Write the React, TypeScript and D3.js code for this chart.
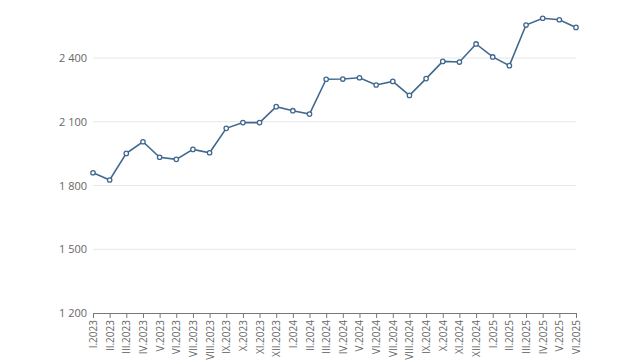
import React, { useEffect, useRef } from "react";
import * as d3 from "d3";

const months = [
  "I.2023", "II.2023", "III.2023", "IV.2023", "V.2023", "VI.2023", "VII.2023", "VIII.2023",
  "IX.2023", "X.2023", "XI.2023", "XII.2023",
  "I.2024", "II.2024", "III.2024", "IV.2024", "V.2024", "VI.2024", "VII.2024", "VIII.2024",
  "IX.2024", "X.2024", "XI.2024", "XII.2024",
  "I.2025", "II.2025", "III.2025", "IV.2025", "V.2025", "VI.2025",
];

const values = [
  1860, 1826, 1951, 2006, 1933, 1923, 1970, 1954, 2069, 2096, 2096, 2171,
  2152, 2136, 2300, 2301, 2307, 2273, 2290, 2224, 2303, 2384, 2381, 2466,
  2405, 2364, 2555, 2587, 2580, 2544,
];

const yTicks = [1200, 1500, 1800, 2100, 2400];

export default function App() {
  const svgRef = useRef<SVGSVGElement>(null);

  useEffect(() => {
    if (!svgRef.current) return;
    const svg = d3.select(svgRef.current);
    svg.selectAll("*").remove();

    const width = 640;
    const height = 360;
    const margin = { top: 18, right: 64, bottom: 47, left: 93 };

    const x = d3.scalePoint<string>()
      .domain(months)
      .range([margin.left, width - margin.right]);

    const y = d3.scaleLinear()
      .domain([1200, 2400])
      .range([height - margin.bottom, 58]);

    const fmt = (v: number) => d3.format(",")(v).replace(",", " ");

    // grid lines
    svg.append("g")
      .selectAll("line")
      .data(yTicks.filter(t => t !== 1200))
      .enter()
      .append("line")
      .attr("x1", margin.left)
      .attr("x2", width - margin.right)
      .attr("y1", d => y(d))
      .attr("y2", d => y(d))
      .attr("stroke", "#e6e6e6")
      .attr("stroke-width", 1);

    // y labels
    svg.append("g")
      .selectAll("text")
      .data(yTicks)
      .enter()
      .append("text")
      .attr("x", 87)
      .attr("y", d => y(d) + 4)
      .attr("text-anchor", "end")
      .attr("font-size", "11px")
      .attr("fill", "#666")
      .text(d => fmt(d));

    // x axis
    const xAxis = svg.append("g")
      .attr("transform", `translate(0,${y(1200)})`)
      .call(d3.axisBottom(x).tickSize(5).tickSizeOuter(0));
    xAxis.select(".domain").attr("stroke", "#777");
    xAxis.selectAll(".tick line").attr("stroke", "#777");
    xAxis.selectAll<SVGTextElement, string>(".tick text")
      .attr("transform", "rotate(-90)")
      .attr("x", -7)
      .attr("y", 0)
      .attr("dy", "0.35em")
      .attr("text-anchor", "end")
      .attr("font-size", "10px")
      .attr("font-family", "Open Sans, sans-serif")
      .attr("fill", "#666");

    const line = d3.line<number>()
      .x((_, i) => x(months[i]) as number)
      .y(d => y(d));

    svg.append("path")
      .datum(values)
      .attr("fill", "none")
      .attr("stroke", "#41688f")
      .attr("stroke-width", 1.6)
      .attr("d", line);

    svg.append("g")
      .selectAll("circle")
      .data(values)
      .enter()
      .append("circle")
      .attr("cx", (_, i) => x(months[i]) as number)
      .attr("cy", d => y(d))
      .attr("r", 2.2)
      .attr("fill", "#fff")
      .attr("stroke", "#41688f")
      .attr("stroke-width", 1.3);
  }, []);

  return (
    <svg
      ref={svgRef}
      width={640}
      height={360}
      viewBox="0 0 640 360"
      style={{ position: "absolute", left: 0, top: 0, fontFamily: "Open Sans, sans-serif", background: "#fff" }}
    />
  );
}
